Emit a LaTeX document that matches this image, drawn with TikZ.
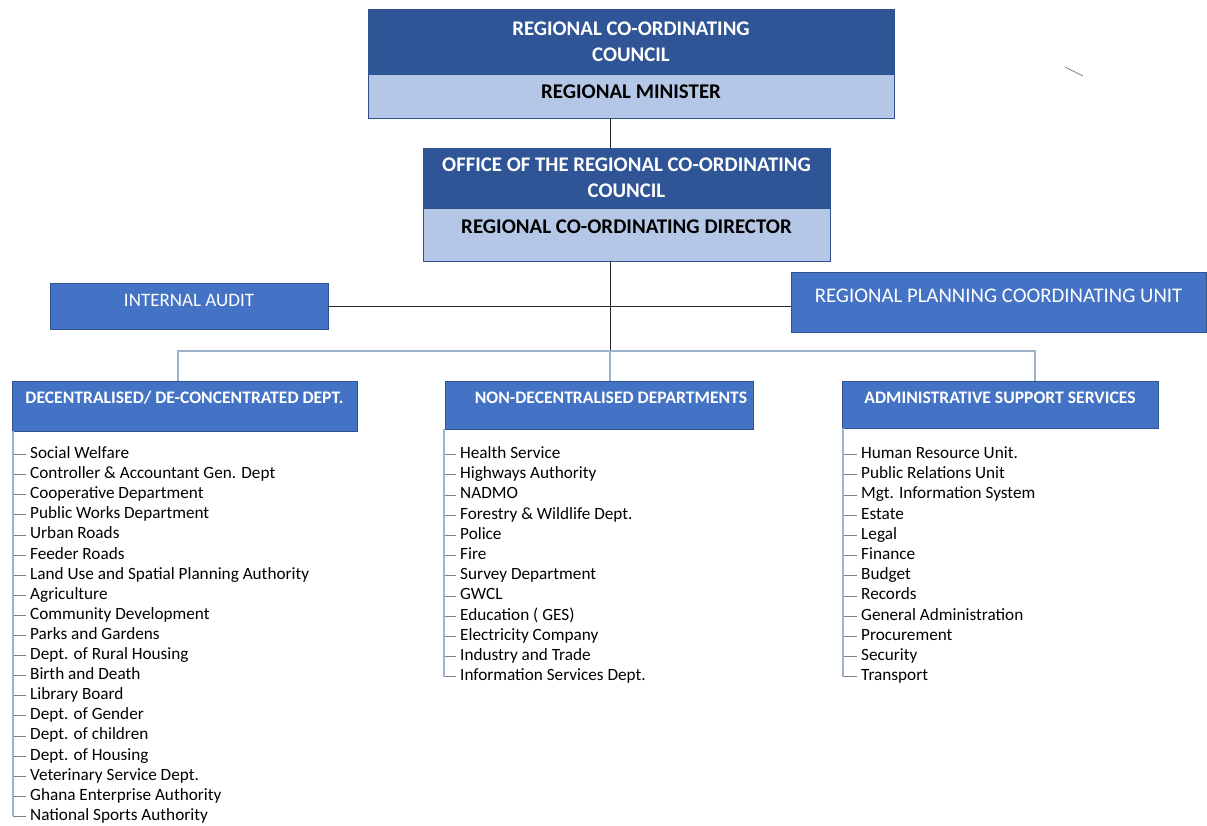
\documentclass[tikz,border=0pt]{standalone}
\usepackage{fontspec}
\setmainfont{Carlito}
\usepackage{tikz}
\usepackage{xcolor}
\definecolor{darkblue}{HTML}{2F5597}
\definecolor{paleblue}{HTML}{B4C7E7}
\definecolor{midblue}{HTML}{4472C4}
\definecolor{edgeblue}{HTML}{2F528F}
\definecolor{branchblue}{HTML}{9DB3CC}
\definecolor{tickgrey}{HTML}{808080}
\tikzstyle{head}=[draw=edgeblue, fill=darkblue, text=white, align=center, inner sep=0pt, font=\bfseries\fontsize{20.8}{26}\selectfont]
\tikzstyle{sub}=[draw=edgeblue, fill=paleblue, text=black, inner sep=0pt, text height=13pt, font=\bfseries\fontsize{20.9}{24}\selectfont]
\tikzstyle{unit}=[draw=edgeblue, fill=midblue, text=white, inner sep=0pt, text height=12pt]
\tikzstyle{group}=[draw=edgeblue, fill=midblue, text=white, inner sep=0pt, text height=11pt, font=\bfseries\fontsize{17.6}{20}\selectfont]
\tikzstyle{item}=[anchor=west, inner xsep=4pt, inner ysep=0pt, text height=11.5pt, text depth=3.5pt, font=\fontsize{17.2}{20}\selectfont]
\tikzstyle{link}=[draw=black!85, line width=1pt]
\tikzstyle{branch}=[draw=branchblue, line width=1.3pt]
\tikzstyle{tick}=[draw=tickgrey, line width=0.8pt]

\begin{document}
\begin{tikzpicture}[x=1pt,y=-1pt]%
	\useasboundingbox (0,0) rectangle (1207,825);

	% council and office
	\draw (631,41.5)   node (Box_RCC)      [head, minimum width=526pt, minimum height=65pt] {REGIONAL CO-ORDINATING\\COUNCIL};
	\draw (631,96)     node (Box_Minister) [sub, minimum width=526pt, minimum height=44pt, text depth=8pt] {REGIONAL MINISTER};
	\draw (626.5,178)  node (Box_Office)   [head, minimum width=407pt, minimum height=60pt] {OFFICE OF THE REGIONAL CO-ORDINATING\\COUNCIL};
	\draw (626.5,234.5) node (Box_Director) [sub, minimum width=407pt, minimum height=53pt, text depth=15pt] {REGIONAL CO-ORDINATING DIRECTOR};

	% staff units
	\draw (189,306)    node (Box_Audit)    [unit, minimum width=278pt, minimum height=46pt, text depth=12pt, font=\fontsize{19}{22}\selectfont] {INTERNAL AUDIT};
	\draw (998.5,302)  node (Box_Planning) [unit, minimum width=415pt, minimum height=60pt, text depth=12pt, font=\fontsize{20.8}{24}\selectfont] {REGIONAL PLANNING COORDINATING UNIT};

	% department groups
	\draw (184.5,406)  node (Box_Dec)   [group, minimum width=345pt, minimum height=50pt, text depth=16pt] {DECENTRALISED/ DE-CONCENTRATED DEPT.};
	\draw (599,405)    node (Box_Non)   [group, minimum width=308pt, minimum height=48pt, text depth=14pt] {\hspace{24pt}NON-DECENTRALISED DEPARTMENTS};
	\draw (1000,404.5) node (Box_Admin) [group, minimum width=316pt, minimum height=47pt, text depth=13pt] {ADMINISTRATIVE SUPPORT SERVICES};

	% connectors
	\coordinate (Trunk)     at (610,0);
	\coordinate (Bus_Mid)   at (610,351);
	\coordinate (Bus_Left)  at (178,351);
	\coordinate (Bus_Right) at (1035,351);
	\draw [link] (Box_Minister.south -| Trunk) -- (Box_Office.north -| Trunk);
	\draw [link] (Box_Director.south -| Trunk) -- (Bus_Mid);
	\draw [link] (Box_Audit.east) -- (Box_Planning.west |- Box_Audit.east);
	\draw [branch] (Bus_Mid) -- (Box_Non.north -| Trunk);
	\draw [branch] (Box_Dec.north -| Bus_Left) -- (Bus_Left) -- (Bus_Right) -- (Box_Admin.north -| Bus_Right);
	\draw [tick] (1065,67) -- (1083,76);

	% lists
	\coordinate (Trunk_Dec)   at (13,0);
	\coordinate (Trunk_Non)   at (444,0);
	\coordinate (Trunk_Admin) at (843,0);

	\foreach \txt [count=\i from 0] in {Social Welfare, Controller \& Accountant Gen. Dept, Cooperative Department, Public Works Department, Urban Roads, Feeder Roads, Land Use and Spatial Planning Authority, Agriculture, Community Development, Parks and Gardens, Dept. of Rural Housing, Birth and Death, Library Board, Dept. of Gender, Dept. of children, Dept. of Housing, Veterinary Service Dept., Ghana Enterprise Authority, National Sports Authority}
	{
		\draw (26,454.5+20.1*\i) node (Dec_\i) [item] {\txt};
		\draw [tick] (Dec_\i.west -| Trunk_Dec) -- (Dec_\i.west);
	}
	\draw [branch] (Box_Dec.south -| Trunk_Dec) -- (Dec_18.west -| Trunk_Dec);

	\foreach \txt [count=\i from 0] in {Health Service, Highways Authority, NADMO, Forestry \& Wildlife Dept., Police, Fire, Survey Department, GWCL, Education ( GES), Electricity Company, Industry and Trade, Information Services Dept.}
	{
		\draw (456,454.5+20.2*\i) node (Non_\i) [item] {\txt};
		\draw [tick] (Non_\i.west -| Trunk_Non) -- (Non_\i.west);
	}
	\draw [branch] (Box_Non.south -| Trunk_Non) -- (Non_11.west -| Trunk_Non);

	\foreach \txt [count=\i from 0] in {Human Resource Unit., Public Relations Unit, Mgt. Information System, Estate, Legal, Finance, Budget, Records, General Administration, Procurement, Security, Transport}
	{
		\draw (857,454.5+20.2*\i) node (Admin_\i) [item] {\txt};
		\draw [tick] (Admin_\i.west -| Trunk_Admin) -- (Admin_\i.west);
	}
	\draw [branch] (Box_Admin.south -| Trunk_Admin) -- (Admin_11.west -| Trunk_Admin);

\end{tikzpicture}
\end{document}
